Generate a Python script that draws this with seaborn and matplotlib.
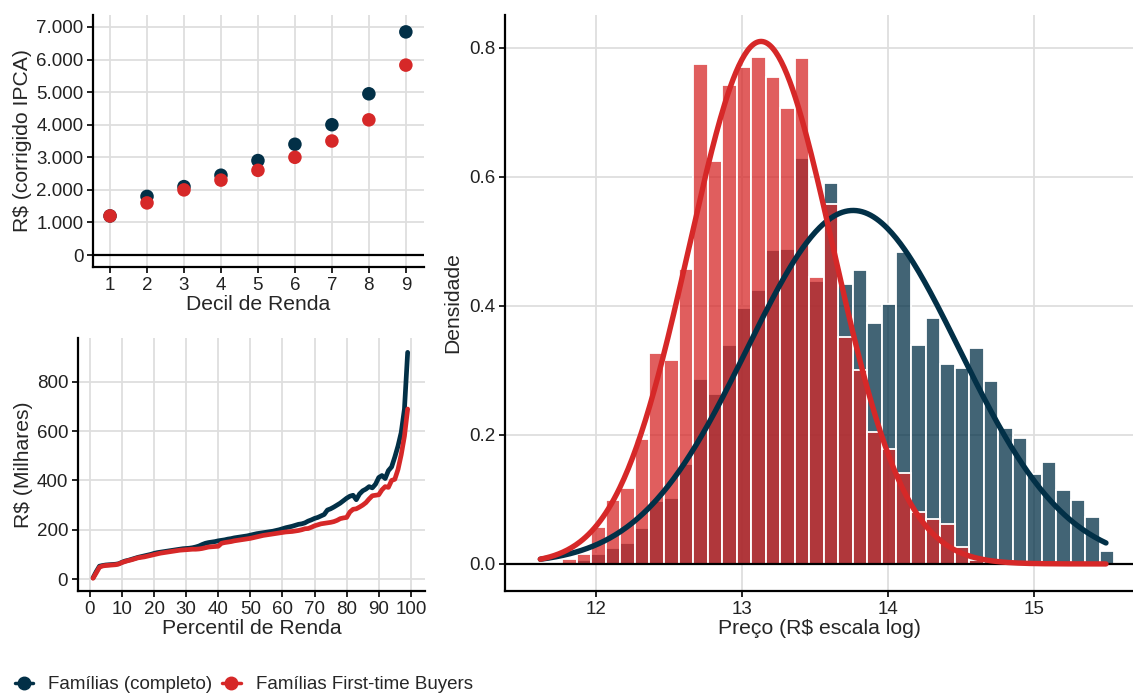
import numpy as np
import pandas as pd
import seaborn as sns
import matplotlib.pyplot as plt
from matplotlib.lines import Line2D
from matplotlib.ticker import FuncFormatter

# cores
AZUL = "#023047"
VERMELHO = "#D62828"

# painel 1: renda por decil
decis = [1, 2, 3, 4, 5, 6, 7, 8, 9]
renda_completo = [1200, 1800, 2100, 2450, 2900, 3400, 4000, 4950, 6850]
renda_ftb = [1200, 1600, 2000, 2300, 2600, 3000, 3500, 4150, 5830]

# painel 2: preço por percentil de renda (R$ milhares)
percentis = list(range(1, 100))
preco_completo = [5, 30, 52, 55, 57, 58, 59, 60, 62, 68,
                  73, 76, 80, 84, 88, 91, 94, 97, 100, 104,
                  107, 109, 111, 113, 115, 117, 119, 121, 123, 124,
                  125, 127, 130, 134, 140, 145, 148, 150, 152, 155,
                  157, 159, 162, 164, 167, 169, 171, 173, 175, 178,
                  181, 184, 186, 188, 190, 192, 194, 197, 200, 204,
                  208, 211, 214, 218, 222, 224, 228, 235, 240, 246,
                  250, 256, 262, 280, 285, 292, 300, 308, 318, 328,
                  336, 340, 322, 345, 358, 365, 375, 370, 385, 412,
                  420, 408, 440, 455, 495, 540, 595, 690, 920]
preco_ftb = [3, 25, 48, 53, 55, 56, 57, 58, 61, 67,
             71, 75, 78, 82, 86, 88, 90, 93, 96, 99,
             102, 105, 107, 109, 111, 113, 115, 117, 118, 119,
             120, 121, 121, 122, 124, 127, 130, 131, 132, 133,
             145, 148, 150, 152, 155, 157, 159, 161, 163, 165,
             168, 171, 174, 177, 179, 181, 183, 185, 187, 189,
             191, 192, 193, 195, 197, 200, 204, 205, 210, 216,
             220, 224, 226, 228, 230, 233, 238, 245, 248, 250,
             272, 283, 285, 292, 300, 310, 325, 338, 340, 342,
             362, 375, 372, 400, 405, 445, 505, 580, 690]

# painel 3: histograma do log do preço
bin_inicio = 11.82
bin_largura = 0.0994
dens_completo = [0.003, 0.006, 0.015, 0.025, 0.032, 0.055, 0.098, 0.102, 0.155, 0.286,
                 0.263, 0.339, 0.397, 0.425, 0.487, 0.489, 0.629, 0.438, 0.591, 0.434,
                 0.456, 0.374, 0.403, 0.484, 0.340, 0.382, 0.310, 0.304, 0.335, 0.283,
                 0.210, 0.196, 0.139, 0.158, 0.115, 0.099, 0.073, 0.020]
dens_ftb = [0.008, 0.015, 0.058, 0.099, 0.117, 0.194, 0.327, 0.316, 0.458, 0.775,
            0.624, 0.743, 0.770, 0.786, 0.755, 0.707, 0.784, 0.445, 0.558, 0.352,
            0.301, 0.205, 0.178, 0.141, 0.080, 0.070, 0.062, 0.026, 0.006, 0.0,
            0.0, 0.0, 0.0, 0.0, 0.0, 0.0, 0.0, 0.0]
# curvas normais ajustadas
media_completo, dp_completo = 13.76, 0.728
media_ftb, dp_ftb = 13.13, 0.4925
x_min, x_max = 11.62, 15.49

rotulos = ["Famílias (completo)", "Famílias First-time Buyers"]

sns.set_theme(style="whitegrid")
plt.rcParams["font.family"] = ["Liberation Sans", "DejaVu Sans"]
plt.rcParams["axes.edgecolor"] = "black"
plt.rcParams["grid.color"] = "#DEDEDE"
plt.rcParams["grid.linewidth"] = 1.3

fig = plt.figure(figsize=(11.33, 6.95), dpi=100)
ax1 = fig.add_axes([0.0821, 0.6158, 0.2921, 0.3626])
ax2 = fig.add_axes([0.0688, 0.1496, 0.3063, 0.3640])
ax3 = fig.add_axes([0.4457, 0.1496, 0.5543, 0.8288])


def estilo(ax):
    for s in ["top", "right"]:
        ax.spines[s].set_visible(False)
    for s in ["left", "bottom"]:
        ax.spines[s].set_color("black")
        ax.spines[s].set_linewidth(1.6)
    ax.tick_params(axis="both", which="major", length=4, width=1.2, color="black",
                   labelsize=13.5, labelcolor="#222222", left=True, bottom=True, pad=3)
    ax.grid(True, color="#DEDEDE", linewidth=1.3)
    ax.set_axisbelow(True)


# --- decis
df1 = pd.DataFrame({
    "decil": decis * 2,
    "renda": renda_completo + renda_ftb,
    "grupo": [rotulos[0]] * len(decis) + [rotulos[1]] * len(decis),
})
ax1.axhline(0, color="black", linewidth=1.6, zorder=1)
sns.scatterplot(data=df1, x="decil", y="renda", hue="grupo",
                palette=[AZUL, VERMELHO], s=95, edgecolor="none", legend=False, ax=ax1, zorder=3)
ax1.set_xlim(0.54, 9.49)
ax1.set_ylim(-368, 7368)
ax1.set_xticks(decis)
ax1.set_yticks(range(0, 7001, 1000))
ax1.yaxis.set_major_formatter(FuncFormatter(lambda v, p: f"{int(v):,}".replace(",", ".")))
ax1.set_xlabel("Decil de Renda", fontsize=15.2, labelpad=1)
ax1.set_ylabel("R$ (corrigido IPCA)", fontsize=15.2, labelpad=3)
estilo(ax1)

# --- percentis
df2 = pd.DataFrame({
    "percentil": percentis * 2,
    "preco": preco_completo + preco_ftb,
    "grupo": [rotulos[0]] * len(percentis) + [rotulos[1]] * len(percentis),
})
sns.lineplot(data=df2, x="percentil", y="preco", hue="grupo",
             palette=[AZUL, VERMELHO], linewidth=3.4, legend=False, ax=ax2)
ax2.set_xlim(-3.7, 104.4)
ax2.set_ylim(-48.7, 978)
ax2.set_xticks(range(0, 101, 10))
ax2.set_yticks(range(0, 801, 200))
ax2.set_xlabel("Percentil de Renda", fontsize=15.2, labelpad=1)
ax2.set_ylabel("R$ (Milhares)", fontsize=15.2, labelpad=3)
estilo(ax2)

# --- histograma
centros = [bin_inicio + bin_largura * i for i in range(len(dens_completo))]
bordas = [bin_inicio - bin_largura / 2 + bin_largura * i for i in range(len(dens_completo) + 1)]
sns.histplot(x=centros, weights=dens_completo, bins=bordas, color=AZUL, alpha=0.75,
             edgecolor="white", linewidth=1.3, ax=ax3)
sns.histplot(x=centros, weights=dens_ftb, bins=bordas, color=VERMELHO, alpha=0.75,
             edgecolor="white", linewidth=1.3, ax=ax3)
xs = np.linspace(x_min, x_max, 400)
curva_c = np.exp(-0.5 * ((xs - media_completo) / dp_completo) ** 2) / (dp_completo * np.sqrt(2 * np.pi))
curva_f = np.exp(-0.5 * ((xs - media_ftb) / dp_ftb) ** 2) / (dp_ftb * np.sqrt(2 * np.pi))
ax3.axhline(0, color="black", linewidth=1.6, zorder=2)
sns.lineplot(x=xs, y=curva_c, color=AZUL, linewidth=3.9, ax=ax3)
sns.lineplot(x=xs, y=curva_f, color=VERMELHO, linewidth=3.9, ax=ax3)
ax3.set_xlim(11.378, 15.675)
ax3.set_ylim(-0.042, 0.851)
ax3.set_xticks([12, 13, 14, 15])
ax3.set_yticks([0.0, 0.2, 0.4, 0.6, 0.8])
ax3.yaxis.set_major_formatter(FuncFormatter(lambda v, p: f"{v:.1f}"))
ax3.set_xlabel("Preço (R$ escala log)", fontsize=15.2, labelpad=1)
ax3.set_ylabel("Densidade", fontsize=15.2, labelpad=5)
estilo(ax3)

# legenda
handles = [Line2D([0], [0], color=c, marker="o", markersize=9, linewidth=2.5)
           for c in [AZUL, VERMELHO]]
fig.legend(handles, rotulos, loc="lower left", bbox_to_anchor=(-0.002, -0.022), ncol=2,
           frameon=False, fontsize=13.5, handlelength=1.0, handletextpad=0.8, columnspacing=0.5)

fig.savefig("out.png", dpi=100)
